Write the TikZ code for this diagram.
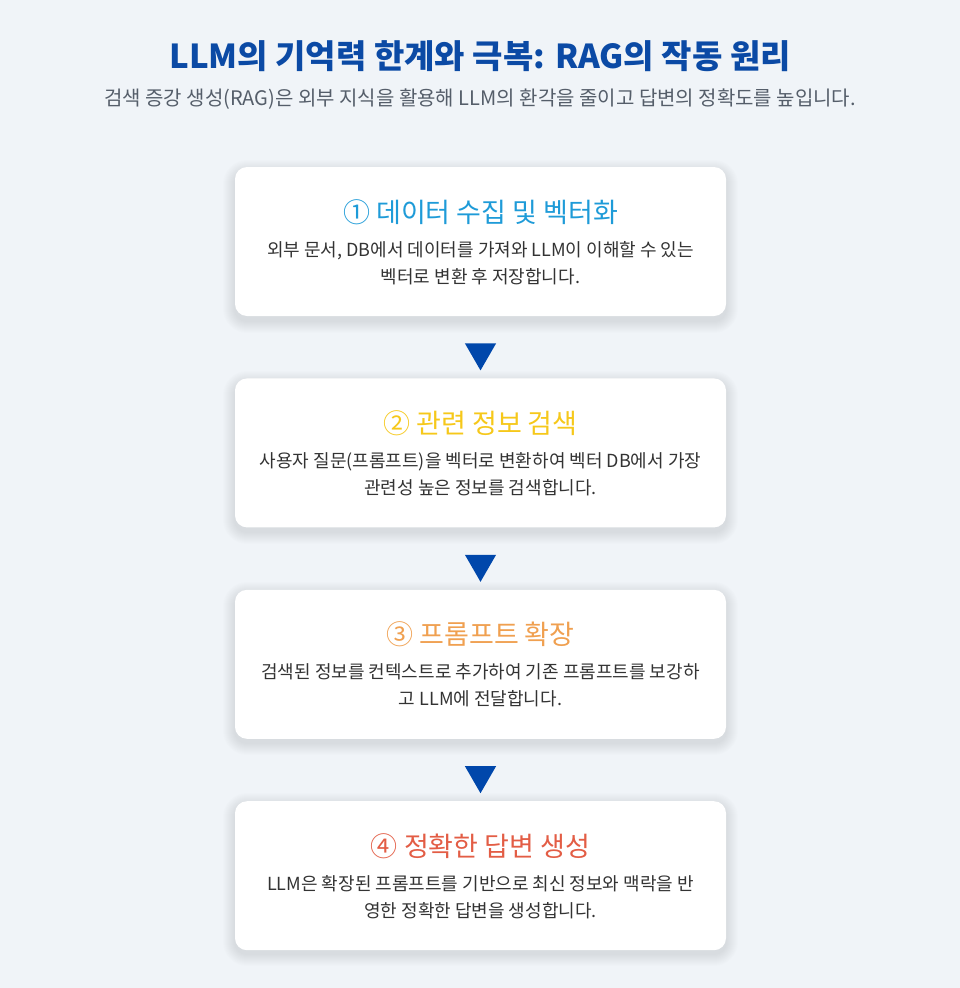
\documentclass[tikz,border=0pt]{standalone}
\usepackage{fontspec}
\setmainfont{Noto Sans CJK KR}
\definecolor{ptbg}{HTML}{F0F4F8}
\definecolor{ptnavy}{HTML}{0B4AA5}
\definecolor{ptarrow}{HTML}{0047AB}
\definecolor{ptsky}{HTML}{1E9BD8}
\definecolor{ptyellow}{HTML}{F6C81A}
\definecolor{ptorange}{HTML}{F0A050}
\definecolor{ptcoral}{HTML}{E35D45}
\definecolor{pttext}{HTML}{333333}
\definecolor{ptgrey}{HTML}{555E6A}
\usetikzlibrary{positioning, shapes.geometric}

\begin{document}
\begin{tikzpicture}[x=1pt, y=-1pt,
  box/.style={fill=white, rounded corners=12pt, minimum width=491pt,
              minimum height=149pt, inner sep=0pt},
  glow/.style={fill=black, opacity=0.007},
  tri/.style={regular polygon, regular polygon sides=3, shape border rotate=180,
              fill=ptarrow, minimum size=36pt, inner sep=0pt},
  head/.style={font=\fontsize{27}{32}\selectfont},
  body/.style={font=\fontsize{18}{27}\selectfont, text=pttext, align=center}]

  \fill[ptbg] (0,0) rectangle (960,988);
  \useasboundingbox (0,0) rectangle (960,988);

  \node[font=\bfseries\fontsize{33}{38}\selectfont, text=ptnavy] (title) at (480,56)
    {LLM의 기억력 한계와 극복: RAG의 작동 원리};
  \node[font=\fontsize{20}{24}\selectfont, text=ptgrey] (subtitle) at (480,99)
    {검색 증강 생성(RAG)은 외부 지식을 활용해 LLM의 환각을 줄이고 답변의 정확도를 높입니다.};

  % soft shadows under the boxes
  \foreach \t in {167,378,589,800}
    \foreach \s in {1,...,12}
      \fill[glow, rounded corners=12+\s] (235-\s,\t+5-\s) rectangle (726+\s,\t+154+\s);

  % step boxes
  \node[box] (collect) at (480.5,241.5) {};
  \node[box, below=62pt of collect] (retrieve) {};
  \node[box, below=62pt of retrieve] (augment) {};
  \node[box, below=62pt of augment] (generate) {};

  % arrows between the boxes
  \node[tri, below=27pt of collect] (arrow1) {};
  \node[tri, below=27pt of retrieve] (arrow2) {};
  \node[tri, below=27pt of augment] (arrow3) {};

  \node[head, text=ptsky] at ([yshift=-45pt]collect.north) {① 데이터 수집 및 벡터화};
  \node[body] at ([yshift=-96pt]collect.north)
    {외부 문서, DB에서 데이터를 가져와 LLM이 이해할 수 있는\\벡터로 변환 후 저장합니다.};

  \node[head, text=ptyellow] at ([yshift=-45pt]retrieve.north) {② 관련 정보 검색};
  \node[body] at ([yshift=-96pt]retrieve.north)
    {사용자 질문(프롬프트)을 벡터로 변환하여 벡터 DB에서 가장\\관련성 높은 정보를 검색합니다.};

  \node[head, text=ptorange] at ([yshift=-45pt]augment.north) {③ 프롬프트 확장};
  \node[body] at ([yshift=-96pt]augment.north)
    {검색된 정보를 컨텍스트로 추가하여 기존 프롬프트를 보강하\\고 LLM에 전달합니다.};

  \node[head, text=ptcoral] at ([yshift=-45pt]generate.north) {④ 정확한 답변 생성};
  \node[body] at ([yshift=-96pt]generate.north)
    {LLM은 확장된 프롬프트를 기반으로 최신 정보와 맥락을 반\\영한 정확한 답변을 생성합니다.};
\end{tikzpicture}
\end{document}
